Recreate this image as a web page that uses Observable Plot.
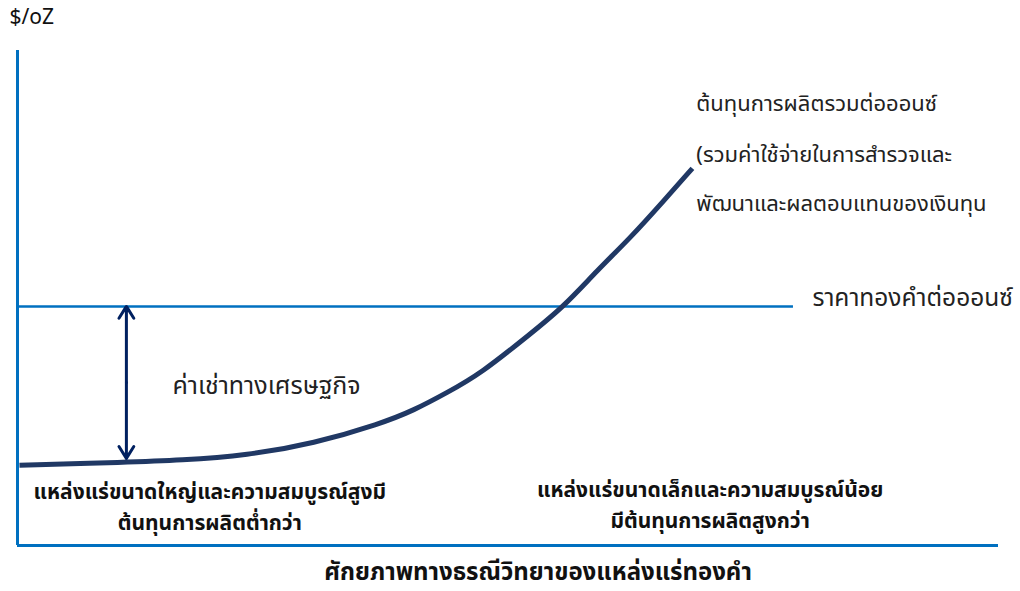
<!DOCTYPE html>
<html>
<head>
<meta charset="utf-8">
<script src="https://cdn.jsdelivr.net/npm/d3@7"></script>
<script src="https://cdn.jsdelivr.net/npm/@observablehq/plot@0.6"></script>
<style>
  html, body { margin: 0; padding: 0; background: #fff; }
  svg { display: block; }
</style>
</head>
<body>
<div id="chart"></div>
<script>
// Cost curve (x: geological potential units, y: $/oz units)
const curveX = [0.2, 11.1, 16.6, 23.4, 30.2, 37.0, 40.4, 43.8, 47.2, 52.3, 55.6, 59.1, 62.5, 65.9, 68.8];
const curveY = [16.2, 16.8, 17.2, 18.2, 20.6, 24.6, 27.3, 30.9, 34.7, 42.8, 48.1, 55.6, 62.2, 69.7, 76.2];
const goldPrice = 48.3;
const priceLineEnd = 79.1;
const rentX = 11.1;
const rentLow = 17.6;

const yUnit = "$/oZ";
const xTitle = "ศักยภาพทางธรณีวิทยาของแหล่งแร่ทองคำ";
const curveLabel = ["ต้นทุนการผลิตรวมต่อออนซ์", "(รวมค่าใช้จ่ายในการสำรวจและ", "พัฒนาและผลตอบแทนของเงินทุน"];
const priceLabel = "ราคาทองคำต่อออนซ์";
const rentLabel = "ค่าเช่าทางเศรษฐกิจ";
const leftLabel = ["แหล่งแร่ขนาดใหญ่และความสมบูรณ์สูงมี", "ต้นทุนการผลิตต่ำกว่า"];
const rightLabel = ["แหล่งแร่ขนาดเล็กและความสมบูรณ์น้อย", "มีต้นทุนการผลิตสูงกว่า"];

const curve = curveX.map((x, i) => ({x, y: curveY[i]}));
const mid = (goldPrice + rentLow) / 2;

const font = "'Noto Sans Thai', 'Leelawadee UI', Tahoma, 'DejaVu Sans', sans-serif";

const chart = Plot.plot({
  width: 1020,
  height: 591,
  marginLeft: 17,
  marginRight: 22,
  marginTop: 50,
  marginBottom: 46,
  x: {domain: [0, 100], axis: null},
  y: {domain: [0, 100], axis: null},
  style: {fontFamily: font, background: "#fff"},
  marks: [
    Plot.ruleX([0], {y1: 0, y2: 100, stroke: "#0070c0", strokeWidth: 3}),
    Plot.ruleY([0], {x1: 0, x2: 100, stroke: "#0070c0", strokeWidth: 3}),
    Plot.ruleY([goldPrice], {x1: 0, x2: priceLineEnd, stroke: "#0070c0", strokeWidth: 2.5}),
    Plot.line(curve, {x: "x", y: "y", curve: "basis", stroke: "#203864", strokeWidth: 5, strokeLinecap: "butt"}),
    Plot.arrow([{y1: mid, y2: goldPrice}, {y1: mid, y2: rentLow}], {
      x1: () => rentX, x2: () => rentX, y1: "y1", y2: "y2",
      stroke: "#002060", strokeWidth: 3, headLength: 7, headAngle: 64
    }),
    Plot.text([yUnit], {x: 0, y: 100, dx: -8, dy: -33, text: d => d, textAnchor: "start", fontSize: 21, fill: "#111"}),
    Plot.text(curveLabel, {x: 69.2, y: 100, text: d => d, textAnchor: "start", fontSize: 22, fill: "#222"}),
    Plot.text([xTitle], {frameAnchor: "bottom", dx: 30, dy: 34, text: d => d, fontSize: 24, fontWeight: "bold", fill: "#111"}),
    Plot.text([priceLabel], {x: priceLineEnd, y: goldPrice, dx: 19, dy: -8, text: d => d, textAnchor: "start", fontSize: 24.5, fill: "#222"}),
    Plot.text([rentLabel], {x: rentX, y: mid, dx: 46, dy: 4, text: d => d, textAnchor: "start", fontSize: 25, fill: "#222"}),
    Plot.text(leftLabel, {x: 19.6, y: 0, text: d => d, fontSize: 21, fontWeight: "bold", fill: "#111"}),
    Plot.text(rightLabel, {x: 70.6, y: 0, text: d => d, fontSize: 21, fontWeight: "bold", fill: "#111"})
  ]
});

document.getElementById("chart").appendChild(chart);
const svg = d3.select(chart);

// multi-line labels: offset each line vertically (px from the anchor)
const groups = svg.selectAll("g[aria-label='text']").nodes();
function offsetLines(g, offsets) {
  d3.select(g).selectAll("text").each(function(d, i) {
    const t = d3.select(this);
    const tr = t.attr("transform") || "";
    t.attr("transform", tr + ` translate(0,${offsets[i]})`);
  });
}
// groups order: yUnit, curveLabel, xTitle, priceLabel, rentLabel, leftLabel, rightLabel
offsetLines(groups[1], [53, 104, 153]);
offsetLines(groups[5], [-53, -22]);
offsetLines(groups[6], [-55, -24]);
</script>
</body>
</html>
